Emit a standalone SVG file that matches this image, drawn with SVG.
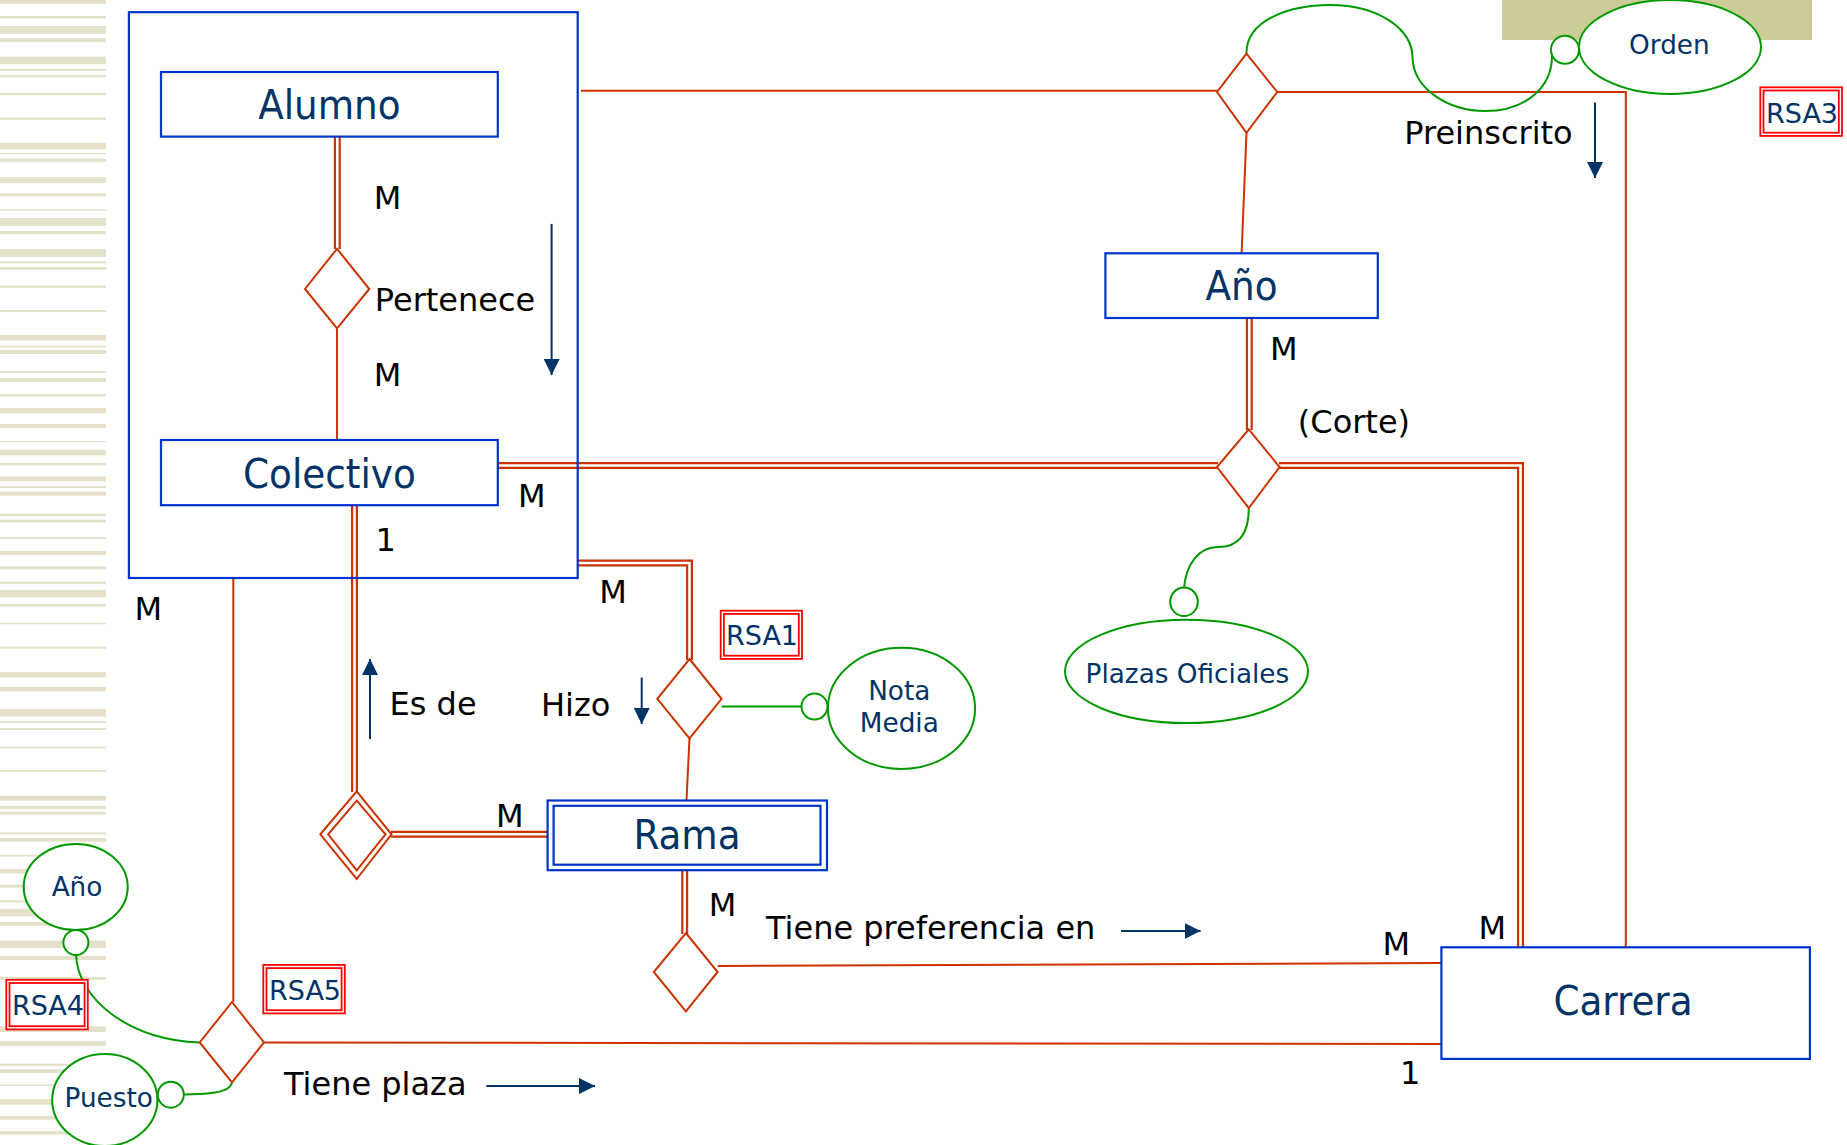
<svg xmlns="http://www.w3.org/2000/svg" width="1847" height="1145" viewBox="0 0 1847 1145">
<defs>
<style>
.bg{fill:#E3E1CA}
.ent{fill:#fff;stroke:#0033CC;stroke-width:2.2}
.agg{fill:none;stroke:#0033CC;stroke-width:2.2}
.rel{fill:#fff;stroke:#CC3300;stroke-width:2}
.ln{fill:none;stroke:#CC3300;stroke-width:2}
.dblo{fill:none;stroke:#CC3300;stroke-width:7}
.dbli{fill:none;stroke:#fff;stroke-width:2.6}
.att{fill:#fff;stroke:#009900;stroke-width:2}
.gl{fill:none;stroke:#009900;stroke-width:2}
.rsa{fill:#fff;stroke:#FF0000;stroke-width:1.8}
.arr{fill:none;stroke:#003366;stroke-width:2}
.et{font-family:'DejaVu Sans Condensed','DejaVu Sans',sans-serif;font-stretch:condensed;font-size:41.5px;fill:#003366;text-anchor:middle}
.at{font-family:'DejaVu Sans',sans-serif;font-size:26.3px;fill:#003366;text-anchor:middle}
.rt{font-family:'DejaVu Sans',sans-serif;font-size:27px;fill:#003366}
.lb{font-family:'DejaVu Sans',sans-serif;font-size:32px;fill:#000}
</style>
<marker id="ah" markerUnits="userSpaceOnUse" markerWidth="16" markerHeight="16" refX="16" refY="8" orient="auto">
<path d="M0,0 L16,8 L0,16 z" fill="#003366"/>
</marker>
</defs>
<rect width="1847" height="1145" fill="#fff"/>
<g id="stripes" class="bg">
<rect x="0" y="0" width="106" height="3.8"/><rect x="0" y="16" width="106" height="2.4"/><rect x="0" y="26" width="106" height="7.7"/><rect x="0" y="38.3" width="106" height="3.8"/>
<rect x="0" y="56.6" width="106" height="7.7"/><rect x="0" y="68.9" width="106" height="1.9"/><rect x="0" y="75" width="106" height="2.3"/><rect x="0" y="93" width="106" height="2.3"/>
<rect x="0" y="117.5" width="106" height="2.3"/><rect x="0" y="142.7" width="106" height="6.6"/><rect x="0" y="153" width="106" height="1.2"/><rect x="0" y="158.8" width="106" height="3.1"/>
<rect x="0" y="177.2" width="106" height="5.8"/><rect x="0" y="193.3" width="106" height="3"/><rect x="0" y="209" width="106" height="1.5"/><rect x="0" y="218" width="106" height="7.8"/>
<rect x="0" y="231" width="106" height="3.2"/><rect x="0" y="249" width="106" height="7.8"/><rect x="0" y="261.4" width="106" height="1.9"/><rect x="0" y="267" width="106" height="2.8"/>
<rect x="0" y="285.5" width="106" height="2.3"/><rect x="0" y="310" width="106" height="2"/><rect x="0" y="335" width="106" height="5.6"/><rect x="0" y="345.6" width="106" height="1.9"/>
<rect x="0" y="350" width="106" height="4"/><rect x="0" y="371" width="106" height="2"/><rect x="0" y="378" width="106" height="4"/><rect x="0" y="394" width="106" height="2.5"/>
<rect x="0" y="408" width="106" height="5.3"/><rect x="0" y="424" width="106" height="4"/><rect x="0" y="441" width="106" height="1.2"/><rect x="0" y="449.7" width="106" height="5.7"/>
<rect x="0" y="463" width="106" height="2.4"/><rect x="0" y="476.5" width="106" height="4.9"/><rect x="0" y="486" width="106" height="2"/><rect x="0" y="491.8" width="106" height="3.8"/>
<rect x="0" y="513.6" width="106" height="2.4"/><rect x="0" y="519.7" width="106" height="2.7"/><rect x="0" y="537" width="106" height="2"/><rect x="0" y="551" width="106" height="4"/>
<rect x="0" y="566.4" width="106" height="3.1"/><rect x="0" y="581.7" width="106" height="2.3"/><rect x="0" y="589.9" width="106" height="7.4"/><rect x="0" y="604" width="106" height="2.6"/>
<rect x="0" y="622.7" width="106" height="1.5"/><rect x="0" y="646.6" width="106" height="2.2"/><rect x="0" y="672" width="106" height="5.5"/><rect x="0" y="686.9" width="106" height="4.4"/>
<rect x="0" y="709" width="106" height="7.7"/><rect x="0" y="721" width="106" height="2"/><rect x="0" y="728" width="106" height="2"/><rect x="0" y="746.6" width="106" height="1.8"/>
<rect x="0" y="770" width="106" height="2"/><rect x="0" y="795.8" width="106" height="4.9"/><rect x="0" y="806" width="106" height="3"/><rect x="0" y="811.9" width="106" height="2.6"/>
<rect x="0" y="832.4" width="106" height="1.9"/><rect x="0" y="838" width="106" height="3.7"/><rect x="0" y="854.8" width="106" height="1.8"/><rect x="0" y="869" width="106" height="4.4"/>
<rect x="0" y="884.6" width="106" height="3"/><rect x="0" y="900.3" width="106" height="2.2"/><rect x="0" y="908.9" width="106" height="7.4"/><rect x="0" y="922" width="106" height="3.7"/>
<rect x="0" y="940.6" width="106" height="7.4"/><rect x="0" y="956" width="106" height="4"/><rect x="0" y="977" width="106" height="2.8"/><rect x="0" y="1026.4" width="106" height="5.6"/>
<rect x="0" y="1041.3" width="106" height="4.5"/><rect x="0" y="1063.7" width="106" height="2.3"/><rect x="0" y="1069.3" width="106" height="3.7"/><rect x="0" y="1084.3" width="106" height="1.7"/>
<rect x="0" y="1099" width="106" height="5.8"/><rect x="0" y="1116" width="106" height="3.7"/><rect x="0" y="1131" width="106" height="3.6"/>
</g>
<rect id="banner" x="1502" y="0" width="310" height="40" fill="#CCCC99"/>

<g id="connectors">
<path class="dblo" d="M337.3,136.6 V249"/><path class="dbli" d="M337.3,136.6 V249"/>
<path class="dblo" d="M497.8,465.5 H1218"/><path class="dbli" d="M497.8,465.5 H1218"/>
<path class="dblo" d="M1279,465.5 H1520.5 V947.3"/><path class="dbli" d="M1279,465.5 H1520.5 V947.3"/>
<path class="dblo" d="M1249.3,318 V430"/><path class="dbli" d="M1249.3,318 V430"/>
<path class="dblo" d="M354.5,505.2 V792"/><path class="dbli" d="M354.5,505.2 V792"/>
<path class="dblo" d="M391,834.3 H547.6"/><path class="dbli" d="M391,834.3 H547.6"/>
<path class="dblo" d="M578,563 H689.5 V660"/><path class="dbli" d="M578,563 H689.5 V660"/>
<path class="dblo" d="M684.7,870 V934"/><path class="dbli" d="M684.7,870 V934"/>
<path class="ln" d="M337,328.4 V440"/>
<path class="ln" d="M581,90.7 H1217"/>
<path class="ln" d="M1277.2,92 H1625.8 V947.3"/>
<path class="ln" d="M1246.5,132.8 L1241.6,253.3"/>
<path class="ln" d="M233.3,578 V1002"/>
<path class="ln" d="M689.5,738.4 L686.5,800.5"/>
<path class="ln" d="M717.6,966 L1441.4,963"/>
<path class="ln" d="M264,1042.5 L1441.4,1044"/>
<path class="gl" d="M1246.5,53.6 C1246,20 1290,5 1330,5 C1380,5 1412,30 1412.5,57 C1413,90 1450,111 1485,111 C1525,111 1552,88 1552,56"/>
<path class="gl" d="M1248.8,508.2 C1248.8,535 1238,547 1218,547 C1198,547 1186,565 1184,588"/>
<path class="gl" d="M721.6,706.6 H801.5"/>
<path class="gl" d="M76,955 C78,1000 130,1040 199.7,1042.5"/>
<path class="gl" d="M184,1094.5 L200,1094 C220,1093 230,1090 232,1082.4"/>
<path class="arr" d="M551.6,223.9 V375" marker-end="url(#ah)"/>
<path class="arr" d="M1595,102.6 V178" marker-end="url(#ah)"/>
<path class="arr" d="M370,739 V659" marker-end="url(#ah)"/>
<path class="arr" d="M641.7,677.5 V724" marker-end="url(#ah)"/>
<path class="arr" d="M1121,931 H1200.6" marker-end="url(#ah)"/>
<path class="arr" d="M486.4,1086 H595" marker-end="url(#ah)"/>
</g>

<g id="aggregation"><rect class="agg" x="128.9" y="12.2" width="448.8" height="565.8"/></g>

<g id="alumno"><rect class="ent" x="161" y="72" width="336.8" height="64.6"/><text class="et" x="329.4" y="119.4">Alumno</text></g>
<g id="colectivo"><rect class="ent" x="161" y="440" width="336.8" height="65.2"/><text class="et" x="329.4" y="488">Colectivo</text></g>
<g id="anio"><rect class="ent" x="1105.4" y="253.3" width="272.4" height="64.7"/><text class="et" x="1241.6" y="300.4">Año</text></g>
<g id="carrera"><rect class="ent" x="1441.4" y="947.3" width="368.5" height="111.6"/><text class="et" x="1623" y="1015">Carrera</text></g>
<g id="rama"><rect class="ent" x="547.6" y="800.5" width="279.4" height="69.7"/><rect class="ent" x="553.6" y="805.8" width="266.9" height="58.9"/><text class="et" x="687" y="849">Rama</text></g>

<g id="pertenece"><polygon class="rel" points="337,248.8 369.3,289 337,328.4 305,289"/></g>
<g id="preinscrito"><polygon class="rel" points="1246.5,53.6 1277.2,92 1246.5,132.8 1217,92"/></g>
<g id="corte"><polygon class="rel" points="1248.8,429.4 1279.6,467 1248.8,508.2 1217,467"/></g>
<g id="hizo"><polygon class="rel" points="689.5,659 721.6,698.8 689.5,738.4 657.3,698.8"/></g>
<g id="tiene-preferencia"><polygon class="rel" points="685.9,933 717.6,972 685.9,1011.5 653.8,972"/></g>
<g id="tiene-plaza"><polygon class="rel" points="232,1002 264,1042.5 232,1082.4 199.7,1042.5"/></g>
<g id="es-de"><polygon class="rel" stroke-width="2.5" points="356.7,791.3 391.5,834.3 356.7,879 320.3,834.3"/><polygon class="rel" stroke-width="2.5" points="356.7,800.7 385.5,834.3 356.7,870.4 328.2,834.3"/></g>

<g id="orden"><ellipse class="att" cx="1670" cy="47" rx="91" ry="47"/><circle class="att" cx="1565" cy="49.8" r="14"/><text class="at" x="1669.4" y="53.6">Orden</text></g>
<g id="plazas-oficiales"><ellipse class="att" cx="1186.5" cy="671.4" rx="121.5" ry="51.7"/><ellipse class="att" cx="1184" cy="601.8" rx="13.8" ry="14.3"/><text class="at" x="1187.4" y="683">Plazas Oficiales</text></g>
<g id="nota-media"><ellipse class="att" cx="901.5" cy="708.3" rx="73.6" ry="60.6"/><circle class="att" cx="814.5" cy="706.6" r="13"/><text class="at" x="899.3" y="700">Nota</text><text class="at" x="899.3" y="731.6">Media</text></g>
<g id="anio-attr"><ellipse class="att" cx="75.7" cy="887" rx="52" ry="43"/><circle class="att" cx="75.9" cy="942.5" r="12.5"/><text class="at" x="77" y="896">Año</text></g>
<g id="puesto"><ellipse class="att" cx="104.8" cy="1100" rx="52.6" ry="46"/><circle class="att" cx="170.8" cy="1094.7" r="13"/><text class="at" x="108.7" y="1106.6">Puesto</text></g>

<g id="rsa3"><rect class="rsa" x="1760.3" y="87.3" width="81.7" height="48.6"/><rect class="rsa" fill="none" x="1763.5" y="90.5" width="75.3" height="42.2"/><text class="rt" x="1766" y="122.5">RSA3</text></g>
<g id="rsa1"><rect class="rsa" x="720.7" y="610.7" width="81.3" height="48.2"/><rect class="rsa" fill="none" x="723.9" y="613.9" width="74.9" height="41.8"/><text class="rt" x="726" y="645">RSA1</text></g>
<g id="rsa4"><rect class="rsa" x="6.3" y="979.8" width="81.5" height="49.6"/><rect class="rsa" fill="none" x="9.5" y="983" width="75.1" height="43.2"/><text class="rt" x="11.9" y="1015">RSA4</text></g>
<g id="rsa5"><rect class="rsa" x="263.3" y="964.9" width="81.5" height="48.5"/><rect class="rsa" fill="none" x="266.5" y="968.1" width="75.1" height="42.1"/><text class="rt" x="269" y="1000">RSA5</text></g>

<g id="labels">
<text class="lb" x="373.7" y="208.6">M</text>
<text class="lb" x="374.8" y="310.8">Pertenece</text>
<text class="lb" x="373.7" y="385.8">M</text>
<text class="lb" x="518" y="507">M</text>
<text class="lb" x="375.6" y="551">1</text>
<text class="lb" x="134.4" y="619.7">M</text>
<text class="lb" x="599.3" y="603">M</text>
<text class="lb" x="389.5" y="715">Es de</text>
<text class="lb" x="541" y="716">Hizo</text>
<text class="lb" x="496" y="826.8">M</text>
<text class="lb" x="708.7" y="916">M</text>
<text class="lb" x="766" y="938.7">Tiene preferencia en</text>
<text class="lb" x="1382.4" y="954.8">M</text>
<text class="lb" x="1478.5" y="938.7">M</text>
<text class="lb" x="1400" y="1084">1</text>
<text class="lb" x="284" y="1095.4">Tiene plaza</text>
<text class="lb" x="1404.2" y="143.5">Preinscrito</text>
<text class="lb" x="1270" y="359.7">M</text>
<text class="lb" x="1297.8" y="432.5">(Corte)</text>
</g>
</svg>
